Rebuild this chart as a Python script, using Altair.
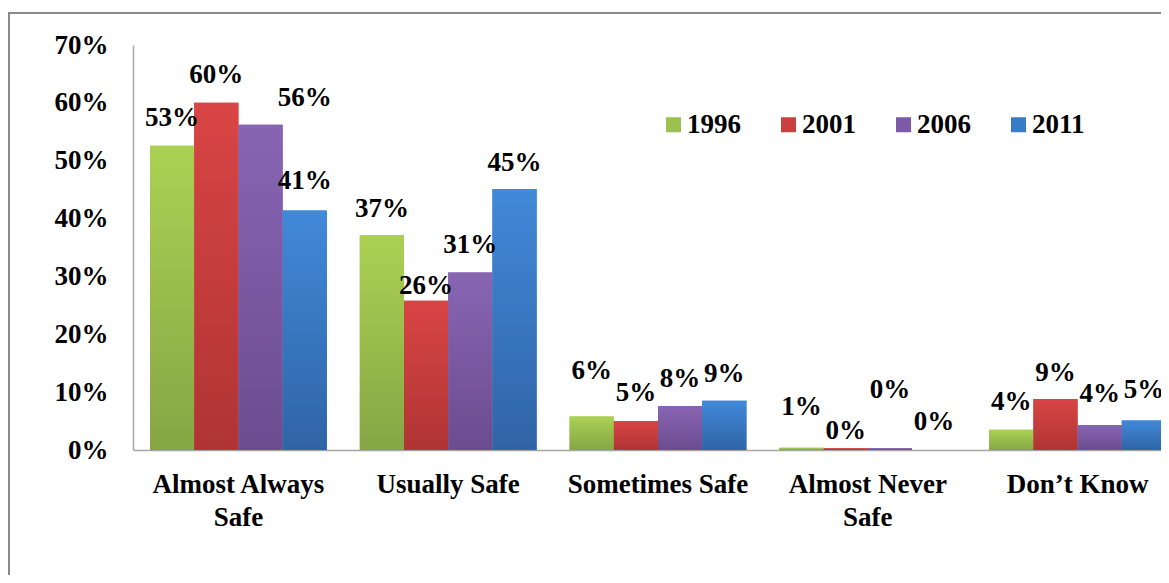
import altair as alt
import pandas as pd

categories = ["Almost Always\nSafe", "Usually Safe", "Sometimes Safe", "Almost Never\nSafe", "Don\u2019t Know"]
years = ["1996", "2001", "2006", "2011"]

values = {
    "1996": [52.6, 37.1, 5.8, 0.4, 3.5],
    "2001": [60.0, 25.8, 5.0, 0.3, 8.8],
    "2006": [56.2, 30.7, 7.6, 0.3, 4.3],
    "2011": [41.4, 45.1, 8.5, 0.0, 5.1],
}
labels = {
    "1996": ["53%", "37%", "6%", "1%", "4%"],
    "2001": ["60%", "26%", "5%", "0%", "9%"],
    "2006": ["56%", "31%", "8%", "0%", "4%"],
    "2011": ["41%", "45%", "9%", "0%", "5%"],
}
# where each data label sits (in % units) and over which bar slot
label_pos = {
    "1996": [57.3, 41.6, 13.7, 7.5, 8.3],
    "2001": [64.9, 28.3, 9.8, 3.2, 13.3],
    "2006": [60.9, 35.4, 12.2, 10.3, 9.6],
    "2011": [46.5, 49.6, 13.2, 4.9, 10.4],
}
label_slot = {
    "1996": ["1996"] * 5,
    "2001": ["2001"] * 5,
    "2006": ["2011", "2006", "2006", "2006", "2006"],
    "2011": ["2011"] * 5,
}

colors = ["#9bc04f", "#c9403e", "#7c5aa6", "#3a7bc8"]
grad_stops = {
    "1996": ["#abd153", "#86a645"],
    "2001": ["#d94545", "#b03434"],
    "2006": ["#8865b3", "#6b4c8f"],
    "2011": ["#4189d9", "#3064a6"],
}

rows = []
for y in years:
    for i, c in enumerate(categories):
        rows.append({"category": c, "year": y, "value": values[y][i],
                     "label": labels[y][i], "label_pos": label_pos[y][i],
                     "label_slot": label_slot[y][i]})
df = pd.DataFrame(rows)

FONT = "'Liberation Serif', 'Times New Roman', 'DejaVu Serif', serif"
FS = 27

x_enc = alt.X(
    "category:N", sort=categories,
    scale=alt.Scale(range=[0, 1050], paddingInner=0.157, paddingOuter=0.081),
    axis=alt.Axis(title=None, labelExpr="split(datum.label, '\\n')", labelAngle=0,
                  labelFont=FONT, labelFontSize=FS, labelFontWeight="bold",
                  labelColor="black", labelPadding=21, labelLineHeight=33,
                  labelBaseline="top", labelLimit=400, ticks=False,
                  domainColor="#a6a6a6", domainWidth=1.5),
)
xo_enc = alt.XOffset("year:N", scale=alt.Scale(domain=years, paddingInner=0, paddingOuter=0))
y_enc = alt.Y(
    "value:Q", scale=alt.Scale(domain=[0, 70], nice=False),
    axis=alt.Axis(title=None, values=[0, 10, 20, 30, 40, 50, 60, 70],
                  labelExpr="datum.value + '%'", grid=False, ticks=False,
                  labelFont=FONT, labelFontSize=FS, labelFontWeight="bold",
                  labelColor="black", labelPadding=25,
                  domainColor="#a6a6a6", domainWidth=1.5),
)

frame = alt.Chart(pd.DataFrame({"k": [0]})).mark_rect(
    fillOpacity=0, stroke="#8a8a8a", strokeWidth=2
).encode(x=alt.value(-124), x2=alt.value(1200), y=alt.value(-32), y2=alt.value(700))

bars = alt.Chart(df).mark_bar().encode(
    x=x_enc, xOffset=xo_enc, y=y_enc,
    color=alt.Color("year:N", scale=alt.Scale(domain=years, range=colors),
                    legend=alt.Legend(title=None, orient="none", legendX=527, legendY=66,
                                      direction="horizontal", columns=4,
                                      symbolType="square", symbolSize=225,
                                      symbolStrokeWidth=0, labelOffset=0,
                                      columnPadding=34, padding=0,
                                      labelFont=FONT, labelFontSize=FS,
                                      labelFontWeight="bold", labelColor="black")),
)

overlays = []
for yr in years:
    g = alt.Gradient(gradient="linear", x1=0, y1=0, x2=0, y2=1,
                     stops=[alt.GradientStop(offset=0, color=grad_stops[yr][0]),
                            alt.GradientStop(offset=1, color=grad_stops[yr][1])])
    overlays.append(
        alt.Chart(df).transform_filter(alt.datum.year == yr)
        .mark_bar(color=g)
        .encode(x=x_enc, xOffset=xo_enc, y=y_enc)
    )

text = alt.Chart(df).mark_text(
    font=FONT, fontSize=FS, fontWeight="bold", color="black",
    align="center", baseline="middle"
).encode(
    x=x_enc,
    xOffset=alt.XOffset("label_slot:N", scale=alt.Scale(domain=years, paddingInner=0, paddingOuter=0)),
    y=alt.Y("label_pos:Q"),
    text="label:N",
)

chart = alt.layer(frame, bars, *overlays, text).properties(
    width=1028, height=405,
    autosize=alt.AutoSizeParams(type="none"),
    padding={"left": 125, "top": 37, "right": 0, "bottom": 125},
    background="white",
).configure_view(stroke=None)

chart.save("out.html", embed_options={"renderer": "svg", "actions": False})
